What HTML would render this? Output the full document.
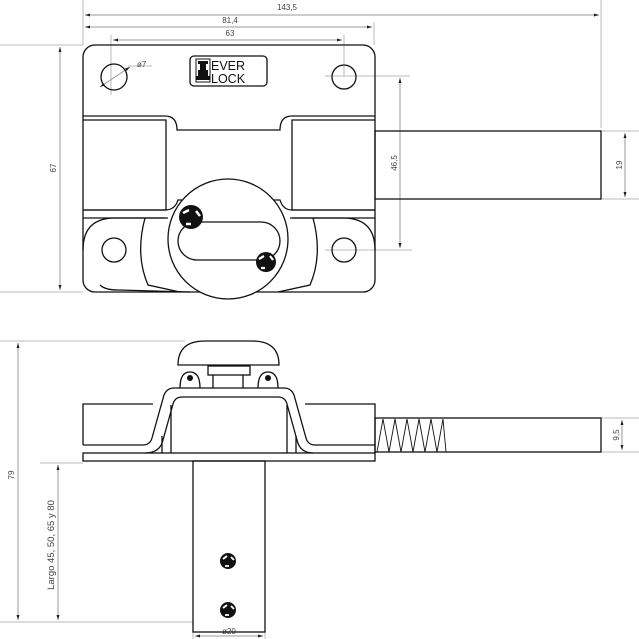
<!DOCTYPE html>
<html><head><meta charset="utf-8"><style>
html,body{margin:0;padding:0;background:#fff;}
svg{display:block;}
text{font-family:"Liberation Sans",sans-serif;fill:#444;}
</style></head><body>
<svg width="639" height="639" viewBox="0 0 639 639" xmlns="http://www.w3.org/2000/svg">
<defs>
<marker id="a" viewBox="0 0 10 10" refX="10" refY="5" markerWidth="5" markerHeight="5" orient="auto-start-reverse"><path d="M0,2 L10,5 L0,8z" fill="#222"/></marker>
</defs>
<g stroke="#bbb" stroke-width="1" fill="none">
<line x1="83" y1="0" x2="83" y2="45"/>
<line x1="601" y1="0" x2="601" y2="128"/>
<line x1="374" y1="22" x2="374" y2="45"/>
<line x1="111" y1="35" x2="111" y2="95"/>
<line x1="344" y1="35" x2="344" y2="76"/>
<line x1="0" y1="45" x2="83" y2="45"/>
<line x1="0" y1="292" x2="83" y2="292"/>
<line x1="325" y1="76" x2="410" y2="76"/>
<line x1="325" y1="250" x2="412" y2="250"/>
<line x1="601" y1="131" x2="639" y2="131"/>
<line x1="601" y1="199" x2="639" y2="199"/>
<line x1="0" y1="341" x2="185" y2="341"/>
<line x1="0" y1="622" x2="193" y2="622"/>
<line x1="40" y1="463" x2="83" y2="463"/>
<line x1="601" y1="418" x2="639" y2="418"/>
<line x1="601" y1="452" x2="639" y2="452"/>
<line x1="193" y1="622" x2="193" y2="639"/>
<line x1="265" y1="622" x2="265" y2="639"/>
<line x1="128" y1="66" x2="152" y2="66"/>
</g>
<g stroke="#999" stroke-width="1" fill="none" marker-start="url(#a)" marker-end="url(#a)">
<line x1="85" y1="15" x2="599" y2="15"/>
<line x1="85" y1="27" x2="372" y2="27"/>
<line x1="113" y1="40" x2="342" y2="40"/>
<line x1="60" y1="47" x2="60" y2="290"/>
<line x1="400" y1="78" x2="400" y2="248"/>
<line x1="625" y1="133" x2="625" y2="197"/>
<line x1="100" y1="87" x2="130" y2="67"/>
<line x1="18" y1="343" x2="18" y2="620"/>
<line x1="58" y1="465" x2="58" y2="620"/>
<line x1="195" y1="636" x2="263" y2="636"/>
<line x1="622" y1="420" x2="622" y2="450"/>
</g>
<g font-size="8">
<text x="287" y="10" text-anchor="middle">143,5</text>
<text x="230" y="23" text-anchor="middle">81,4</text>
<text x="230" y="36" text-anchor="middle">63</text>
<text x="137" y="67">ø7</text>
<text x="229" y="634" text-anchor="middle" font-size="8">ø20</text>
<text transform="translate(56,168) rotate(-90)" text-anchor="middle">67</text>
<text transform="translate(397,163) rotate(-90)" text-anchor="middle">46,5</text>
<text transform="translate(622,165) rotate(-90)" text-anchor="middle">19</text>
<text transform="translate(619,435) rotate(-90)" text-anchor="middle">9,5</text>
<text transform="translate(14,475) rotate(-90)" text-anchor="middle">79</text>
<text transform="translate(54,545) rotate(-90)" text-anchor="middle" font-size="9.5">Largo 45, 50, 65 y 80</text>
</g>
<g stroke="#111" stroke-width="1.3" fill="none">
<rect x="83" y="45" width="292" height="247" rx="12"/>
<rect x="375" y="131" width="226" height="68"/>
<circle cx="114" cy="77" r="13"/>
<circle cx="344" cy="77" r="12"/>
<circle cx="114" cy="250" r="12"/>
<circle cx="344" cy="250" r="12"/>
<rect x="190" y="56" width="77" height="30" rx="4"/>
<path d="M83,116 H165 Q177,116 177,130 H280 Q280,116 292,116 H375"/>
<path d="M83,120 H166 V210 H83"/>
<path d="M375,120 H292 V210 H375"/>
<path d="M83,210 H165 Q175,210 178,200 H280 Q283,210 292,210 H375"/>
<path d="M83,218 H165 M375,218 H292"/>
<path d="M83,250 Q83,218 115,218 H168 M375,250 Q375,218 343,218 H290"/>
<path d="M145,218 Q135,255 148,285 L180,292 M313,218 Q323,255 310,285 L278,292"/>
<path d="M100,285 Q105,290 118,290 L190,292"/>
<circle cx="228" cy="239" r="60" fill="#fff"/>
<rect x="178" y="222" width="102" height="38" rx="19"/>
</g>
<g>
<circle cx="191" cy="217" r="12" fill="#111"/>
<path d="M183,213 l6,-3 M196,211 l4,5 M186,224 l5,0" stroke="#fff" stroke-width="2.5"/>
<circle cx="266" cy="262" r="10" fill="#111"/>
<path d="M259,259 l5,-3 M270,256 l3,4 M261,268 l4,0" stroke="#fff" stroke-width="2.2"/>
<rect x="196" y="59" width="14" height="23" fill="#fff" stroke="#111" stroke-width="1"/>
<path d="M198,61 h10 v3 h-2 v6 h2 v6 h2 v4 h-14 v-4 h2 v-6 h2 v-6 h-2z" fill="#111"/>
<text x="211" y="70" font-size="12.5" style="fill:#111">EVER</text>
<text x="211" y="83" font-size="12.5" style="fill:#111">LOCK</text>
</g>
<g stroke="#111" stroke-width="1.3" fill="none">
<path d="M178,365 Q178,341 205,341 H252 Q279,341 279,365 Z"/>
<rect x="208" y="366" width="42" height="9"/>
<path d="M213,375 V388 M243,375 V388"/>
<path d="M180,388 Q180,372 190,372 Q200,372 200,388 M258,388 Q258,372 268,372 Q278,372 278,388"/>
<path d="M83,445 V404 H153 M305,404 H375 V453"/>
<path d="M83,445 H143 Q150,445 152,438 L164,395 Q167,388 174,388 H284 Q291,388 294,395 L306,438 Q308,445 315,445 H375"/>
<path d="M145,453 Q160,453 163,440 L173,404 Q175,397 182,397 H278 Q285,397 287,404 L297,440 Q300,453 313,453"/>
<path d="M162,453 V436 M171,453 V405 M287,453 V405 M296,453 V436"/>
<rect x="83" y="453" width="292" height="8"/>
<rect x="375" y="418" width="226" height="34"/>
<path d="M377,452 L383,419 L389,452 L395,419 L401,452 L407,419 L413,452 L419,419 L425,452 L431,419 L437,452 L443,419 L446,452" stroke-width="0.9"/>
<rect x="193" y="461" width="72" height="171"/>
</g>
<g>
<circle cx="190" cy="378" r="3" fill="#111"/><circle cx="268" cy="378" r="3" fill="#111"/>
<circle cx="228" cy="561" r="8" fill="#111"/>
<path d="M223,559 l4,-3 M231,557 l3,3 M225,566 l4,0" stroke="#fff" stroke-width="1.8"/>
<circle cx="228" cy="610" r="8" fill="#111"/>
<path d="M223,608 l4,-3 M231,606 l3,3 M225,615 l4,0" stroke="#fff" stroke-width="1.8"/>
</g>
</svg>
</body></html>
